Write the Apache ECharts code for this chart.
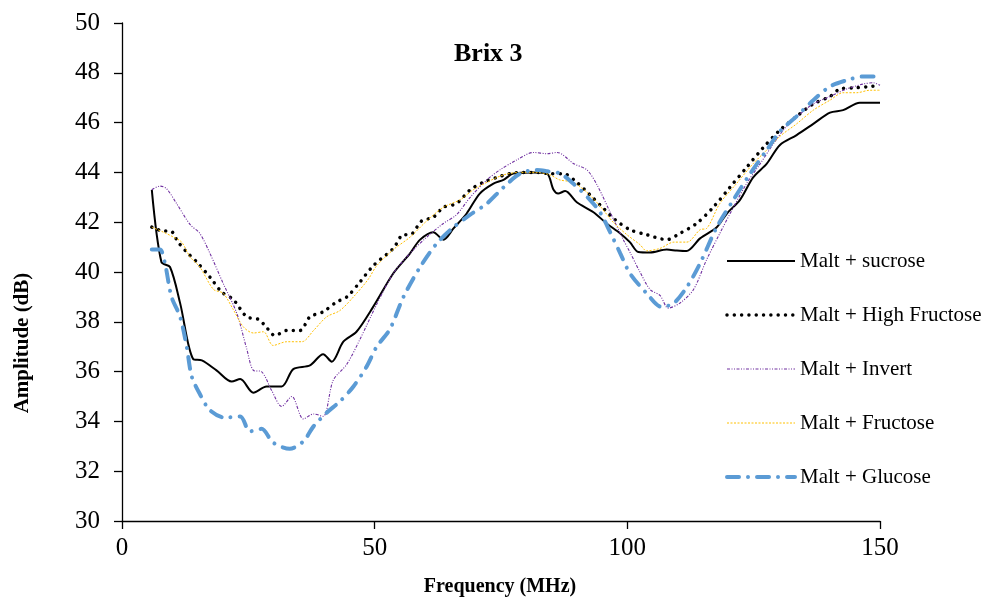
<!DOCTYPE html>
<html>
<head>
<meta charset="utf-8">
<script src="https://cdn.jsdelivr.net/npm/echarts@6/dist/echarts.min.js"></script>
<style>
  html, body { margin: 0; padding: 0; background: #fff; }
  #chart { width: 985px; height: 598px; }
</style>
</head>
<body>
<div id="chart"></div>
<script>
// Amplitude (dB) against frequency (MHz), pairs of [frequency, amplitude]
const sucrose = [[5.9,43.3],[7.8,40.4],[9.5,40.2],[11.5,38.75],[14.1,36.5],[15.8,36.45],[18.7,36.05],[21.7,35.6],[23.4,35.7],[26,35.15],[28.6,35.4],[31.6,35.4],[33.9,36.1],[37.2,36.25],[39.8,36.7],[41.5,36.4],[43.8,37.2],[46.4,37.6],[49.7,38.6],[53.7,39.95],[57,40.75],[59,41.3],[61.6,41.6],[63.6,41.3],[65.6,41.75],[68.2,42.35],[70.8,43.15],[73.5,43.55],[75.5,43.7],[77.4,43.95],[81.4,44.0],[84.1,43.95],[85.4,43.3],[86.3,43.15],[87.7,43.25],[90,42.8],[93.3,42.4],[95.9,41.95],[98.6,41.55],[100.5,41.2],[102.2,40.8],[104.5,40.78],[107.8,40.9],[109.8,40.86],[111.7,40.84],[114.4,41.35],[117.7,41.8],[119.7,42.35],[122.3,42.9],[124.9,43.8],[127.6,44.35],[130.2,45.1],[133.5,45.5],[136.8,45.95],[140.1,46.4],[142.7,46.5],[146,46.8],[150,46.8]];

const highFructose = [[5.9,41.8],[8.2,41.65],[9.6,41.65],[11.1,41.2],[12.8,40.8],[14.8,40.4],[17.4,39.8],[19.7,39.2],[22,38.9],[24.7,38.2],[27,38.1],[28.3,37.85],[30.3,37.45],[32.6,37.65],[35.2,37.65],[37.2,38.2],[39.8,38.4],[42.5,38.8],[44.5,39.0],[47.1,39.6],[49.7,40.25],[53.7,40.95],[55.7,41.5],[57,41.5],[59.3,42.05],[61.6,42.2],[63.6,42.6],[66.2,42.75],[68.9,43.3],[71.5,43.6],[74.2,43.8],[76.8,43.95],[79.4,44.0],[82.1,44.0],[84.7,43.95],[87.3,43.95],[90,43.6],[92.6,43.1],[95.3,42.55],[97.6,42.1],[100.5,41.7],[103.8,41.5],[107.8,41.3],[110.4,41.55],[113.7,41.95],[117,42.6],[120.3,43.4],[123.6,44.2],[126.9,45.0],[130.2,45.7],[133.5,46.25],[136.8,46.75],[140.1,47.05],[142.1,47.35],[145.4,47.4],[148,47.45],[150,47.5]];

const invert = [[5.9,43.3],[7.5,43.45],[8.8,43.35],[10.8,42.75],[13.5,41.9],[15.4,41.55],[17.4,40.75],[20,39.55],[22.7,38.35],[24.7,36.9],[26,36.05],[27.6,36.0],[29.6,35.25],[31.6,34.6],[33.6,35.0],[35.9,34.1],[37.9,34.3],[39.8,34.2],[41.8,35.65],[44.5,36.3],[47.1,37.3],[50.4,38.7],[53.7,39.95],[57,40.75],[60.3,41.4],[63.6,41.95],[66.2,42.3],[68.9,43.0],[72.2,43.7],[74.8,44.1],[78.1,44.5],[81.4,44.8],[84.1,44.75],[86.1,44.8],[89.4,44.35],[92,44.1],[94,43.5],[96.6,42.4],[99.2,41.3],[100.5,40.8],[102.5,40.0],[104.5,39.3],[106.5,39.05],[108.1,38.55],[110.4,38.75],[113.1,39.3],[115.7,40.5],[118.3,41.55],[121,42.6],[123.6,43.55],[126.3,44.35],[128.9,45.15],[131.5,45.85],[134.2,46.35],[136.8,46.75],[140.1,47.05],[143.4,47.35],[146.7,47.55],[148.7,47.6],[150,47.5]];

const fructose = [[5.9,41.8],[8.2,41.6],[10.2,41.4],[11.8,41.2],[13.5,40.6],[15.4,40.2],[18.1,39.3],[20,39.15],[22,38.5],[24,37.8],[26,37.55],[28,37.6],[29.9,37.05],[32.6,37.2],[35.6,37.2],[37.9,37.65],[40.5,38.2],[43.1,38.45],[45.8,39.0],[48.7,39.7],[50.4,40.25],[53.7,40.9],[57,41.4],[60.3,42.05],[63.6,42.6],[66.9,42.9],[69.5,43.3],[72.2,43.6],[75.5,43.9],[78.8,44.0],[82.1,44.0],[84.7,43.9],[86.6,43.7],[89.3,43.6],[92,43.2],[94.6,42.65],[97.2,42.0],[99.9,41.5],[102.5,41.1],[103.8,40.85],[106.5,40.95],[109.2,41.2],[111.8,41.2],[114.4,41.7],[115.7,41.75],[118.3,42.75],[121.6,43.55],[124.9,44.35],[127.6,44.9],[130.2,45.45],[133.5,45.95],[136.8,46.5],[140.1,46.9],[142.7,47.2],[145.4,47.2],[148,47.3],[150,47.3]];

const glucose = [[5.9,40.9],[7.5,40.9],[8.5,40.35],[9.8,39.0],[11.5,38.2],[12.8,37.0],[13.8,35.8],[15.4,35.1],[17.4,34.45],[20.4,34.15],[23.4,34.2],[25.3,33.6],[27.6,33.7],[29.9,33.15],[33.2,32.9],[35.9,33.2],[37.9,33.8],[40.5,34.35],[43.1,34.8],[45.8,35.4],[48.4,36.2],[50.4,37.0],[53,37.7],[55.7,39.0],[59,40.2],[62.3,41.15],[65.6,41.8],[68.9,42.3],[72.2,42.75],[75.5,43.4],[78.8,43.95],[82.1,44.1],[84.1,44.05],[86.7,43.95],[89.3,43.55],[92.6,42.9],[94.6,42.4],[96.6,41.6],[98.6,40.75],[100.5,39.95],[103.8,39.15],[106.8,38.6],[109.2,38.75],[111.8,39.4],[114.4,40.35],[117.7,41.8],[121,42.9],[124.3,43.95],[127.6,44.9],[130.2,45.65],[133.5,46.25],[136.8,46.9],[140.1,47.45],[143.4,47.7],[146.7,47.85],[150,47.85]];

const seriesNames = ['Malt + sucrose', 'Malt + High Fructose', 'Malt + Invert', 'Malt + Fructose', 'Malt + Glucose'];
const xTicks = { min: 0, max: 150, interval: 50 };
const yTicks = { min: 30, max: 50, interval: 2 };

const serif = 'Liberation Serif, Times New Roman, serif';

// Line look of each series, shared by the plot and the legend
const styles = [
  { color: '#000000', width: 2, type: 'solid' },
  { color: '#000000', width: 3.5, type: [0.01, 7.3], cap: 'round' },
  { color: '#7030A0', width: 1.1, type: [3, 1.5, 1, 1.5, 1, 1.5] },
  { color: '#FFC000', width: 1, type: [2, 1.5] },
  { color: '#5B9BD5', width: 4, type: [12, 9, 0.01, 9], cap: 'round' }
];
const seriesData = [sucrose, highFructose, invert, fructose, glucose];

const chart = echarts.init(document.getElementById('chart'), null, { renderer: 'canvas' });

chart.setOption({
  animation: false,
  backgroundColor: '#ffffff',
  title: {
    text: 'Brix 3',
    left: 454,
    top: 41,
    padding: 0,
    textStyle: { fontFamily: serif, fontSize: 26, fontWeight: 'bold', color: '#000' }
  },
  grid: { left: 122, right: 105, top: 23, bottom: 77, containLabel: false },
  legend: {
    orient: 'vertical',
    left: 725,
    top: 249,
    padding: 0,
    itemWidth: 68,
    itemHeight: 14,
    itemGap: 30,
    selectedMode: false,
    itemStyle: { opacity: 0 },
    textStyle: { fontFamily: serif, fontSize: 21, color: '#000', lineHeight: 24 },
    data: seriesNames.map((n, i) => ({
      name: n,
      itemStyle: { opacity: 0 },
      lineStyle: Object.assign({ opacity: 1 }, styles[i])
    }))
  },
  xAxis: {
    type: 'value',
    min: xTicks.min,
    max: xTicks.max,
    interval: xTicks.interval,
    axisLine: { onZero: false, lineStyle: { color: '#000', width: 1.3 } },
    axisTick: { show: true, length: 8, inside: false, lineStyle: { color: '#000', width: 1.3 } },
    axisLabel: { fontFamily: serif, fontSize: 25, color: '#000', margin: 15 },
    splitLine: { show: false }
  },
  yAxis: {
    type: 'value',
    min: yTicks.min,
    max: yTicks.max,
    interval: yTicks.interval,
    axisLine: { show: true, onZero: false, lineStyle: { color: '#000', width: 1.3 } },
    axisTick: { show: true, length: 8, inside: false, lineStyle: { color: '#000', width: 1.3 } },
    axisLabel: { fontFamily: serif, fontSize: 25, color: '#000', margin: 22 },
    splitLine: { show: false }
  },
  graphic: [
    {
      type: 'text',
      x: 500,
      y: 587,
      style: {
        text: 'Frequency (MHz)',
        font: 'bold 20px ' + serif,
        fill: '#000',
        align: 'center',
        verticalAlign: 'middle'
      }
    },
    {
      type: 'text',
      x: 23,
      y: 343,
      rotation: Math.PI / 2,
      style: {
        text: 'Amplitude (dB)',
        font: 'bold 21px ' + serif,
        fill: '#000',
        align: 'center',
        verticalAlign: 'middle'
      }
    }
  ],
  series: seriesNames.map((name, i) => ({
    name: name,
    type: 'line',
    data: seriesData[i],
    smooth: 0.3,
    symbol: 'none',
    showSymbol: false,
    lineStyle: styles[i],
    itemStyle: { color: styles[i].color },
    emphasis: { disabled: true },
    animation: false
  }))
});
</script>
</body>
</html>
